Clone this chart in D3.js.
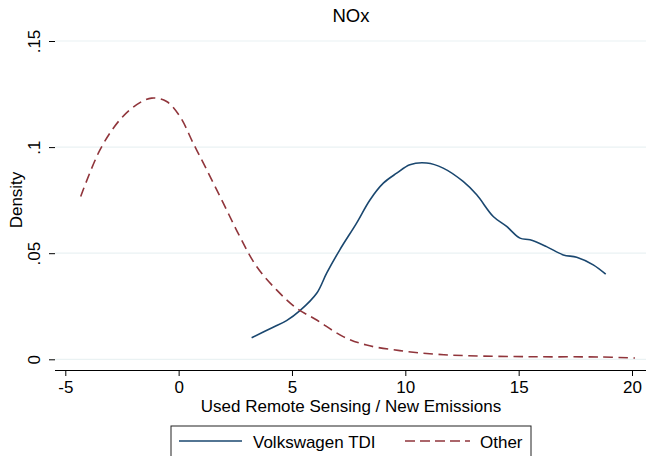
<!DOCTYPE html>
<html><head><meta charset="utf-8">
<script src="https://cdn.jsdelivr.net/npm/d3@7"></script>
<style>body{margin:0;background:#fff}svg{display:block}text{font-family:"Liberation Sans",Arial,sans-serif;fill:#000}</style>
</head><body>
<svg id="c" width="646" height="456"></svg>
<script>
const xTicks = [-5, 0, 5, 10, 15, 20];
const yTicks = [0, 0.05, 0.1, 0.15];
const yTickLabels = ["0", ".05", ".1", ".15"];
const seriesNames = ["Volkswagen TDI", "Other"];
const vwX = [3.22,4.17,4.76,5.35,6.09,6.53,7.11,7.85,8.44,9.03,9.62,10.2,10.94,11.67,12.55,13.15,13.88,14.47,15.06,15.5,16.23,16.97,17.56,18.29,18.84];
const vwY = [0.0102,0.0151,0.0182,0.0229,0.0311,0.0406,0.0516,0.0642,0.0751,0.0830,0.0877,0.0917,0.0925,0.0901,0.0838,0.0775,0.0673,0.0626,0.0571,0.0563,0.0531,0.0492,0.0481,0.0445,0.0401];
const otX = [-4.32,-3.47,-2.59,-1.85,-1.19,-0.53,0.06,0.64,1.24,1.97,2.70,3.44,4.32,5.2,6.09,7.26,8.29,9.76,11.23,12.7,15.64,18.58,20.13];
const otY = [0.0767,0.0987,0.1129,0.1200,0.1231,0.1215,0.1144,0.1019,0.0893,0.0736,0.0578,0.0437,0.0327,0.0241,0.0185,0.0107,0.0067,0.0041,0.0025,0.0017,0.0012,0.0011,0.0006];

const svg = d3.select("#c");
const x = d3.scaleLinear().domain([-5, 20]).range([65.3, 632]);
const y = d3.scaleLinear().domain([0, 0.15]).range([359.3, 41]);
const plotL = 55, plotR = 646, axisY = 370;
const navy = "#1a476f", maroon = "#90353b";
const fs = 17;

// gridlines
svg.append("g").selectAll("line").data(yTicks).join("line")
  .attr("x1", plotL).attr("x2", plotR).attr("y1", d => y(d)).attr("y2", d => y(d))
  .attr("stroke", "#eaf2f3").attr("stroke-width", 1.2);

// y axis ticks (no axis line)
const yAxis = svg.append("g").attr("transform", `translate(${plotL},0)`)
  .call(d3.axisLeft(y).tickValues(yTicks).tickSize(6).tickFormat((d, i) => yTickLabels[i]));
yAxis.select(".domain").remove();
yAxis.selectAll("line").attr("stroke", "#000");
yAxis.selectAll("text").attr("font-size", fs).attr("x", 0).attr("y", 0).attr("dy", 0)
  .attr("text-anchor", "middle")
  .attr("transform", `translate(${40 - plotL},0) rotate(-90)`);

// x axis
const xAxis = svg.append("g").attr("transform", `translate(0,${axisY})`)
  .call(d3.axisBottom(x).tickValues(xTicks).tickSize(6).tickSizeOuter(0).tickFormat(d => String(d)));
xAxis.select(".domain").attr("d", `M${plotL},0.5H${plotR}`).attr("stroke", "#000");
xAxis.selectAll("line").attr("stroke", "#000");
xAxis.selectAll("text").attr("font-size", fs).attr("y", 23).attr("dy", 0);

// lines
const line = d3.line().x(d => x(d[0])).y(d => y(d[1])).curve(d3.curveCatmullRom);
svg.append("path").datum(vwX.map((v, i) => [v, vwY[i]])).attr("d", line)
  .attr("fill", "none").attr("stroke", navy).attr("stroke-width", 1.6);
svg.append("path").datum(otX.map((v, i) => [v, otY[i]])).attr("d", line)
  .attr("fill", "none").attr("stroke", maroon).attr("stroke-width", 1.6).attr("stroke-dasharray", "9.5,5.5");

// titles
svg.append("text").attr("x", 351).attr("y", 22).attr("text-anchor", "middle").attr("font-size", 18.5).text("NOx");
svg.append("text").attr("x", 351).attr("y", 412).attr("text-anchor", "middle").attr("font-size", fs).text("Used Remote Sensing / New Emissions");
svg.append("text").attr("transform", "translate(22,200) rotate(-90)").attr("text-anchor", "middle").attr("font-size", fs).text("Density");

// legend
const lg = svg.append("g");
lg.append("rect").attr("x", 171).attr("y", 426).attr("width", 360).attr("height", 34)
  .attr("fill", "#fff").attr("stroke", "#222").attr("stroke-width", 1);
lg.append("line").attr("x1", 179).attr("x2", 242).attr("y1", 441).attr("y2", 441).attr("stroke", navy).attr("stroke-width", 1.6);
lg.append("text").attr("x", 253).attr("y", 448).attr("font-size", fs).text(seriesNames[0]);
lg.append("line").attr("x1", 405).attr("x2", 470).attr("y1", 441).attr("y2", 441).attr("stroke", maroon).attr("stroke-width", 1.6).attr("stroke-dasharray", "10,5");
lg.append("text").attr("x", 480).attr("y", 448).attr("font-size", fs).text(seriesNames[1]);
</script>
</body></html>
